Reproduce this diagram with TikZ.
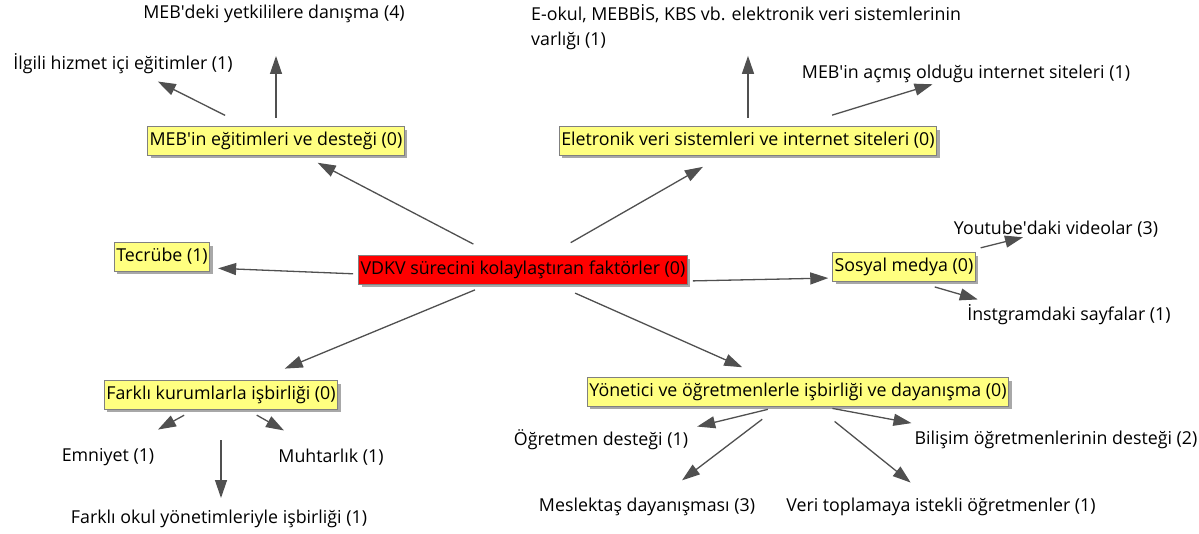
\documentclass[tikz,border=0pt]{standalone}
\usepackage{fontspec}
\setmainfont{Open Sans}
\usetikzlibrary{arrows.meta,shadows,calc}
\definecolor{boxyellow}{HTML}{FFFF80}
\definecolor{boxedge}{HTML}{808080}
\definecolor{shadowgray}{HTML}{A8A8A8}
\definecolor{linegray}{HTML}{505050}
\newcommand\apo{\textquotesingle}
\begin{document}
\begin{tikzpicture}[x=1pt,y=-1pt,
  font=\fontsize{17.8}{25}\selectfont,
  box/.style={draw=boxedge, line width=0.8pt, fill=boxyellow, inner xsep=2pt, inner ysep=5.5pt,
    text height=13pt, text depth=4.5pt,
    drop shadow={shadow xshift=3pt, shadow yshift=-3pt, fill=shadowgray, opacity=1}},
  leaf/.style={inner sep=0pt},
  arr/.style={draw=linegray, line width=1.3pt, -{Triangle[length=18pt,width=12pt,fill=linegray]}}]
\useasboundingbox (0,0) rectangle (1199,534);
\fill[white] (0,0) rectangle (1199,534);
% category boxes
\node[box, fill=red] (c) at (523,270) {VDKV sürecini kolaylaştıran faktörler (0)};
\node[box] (m) at (276,141) {MEB\apo in eğitimleri ve desteği (0)};
\node[box] (e) at (748,141) {Eletronik veri sistemleri ve internet siteleri (0)};
\node[box] (t) at (162,257) {Tecrübe (1)};
\node[box] (s) at (904,267) {Sosyal medya (0)};
\node[box] (f) at (221,395) {Farklı kurumlarla işbirliği (0)};
\node[box] (y) at (798,392) {Yönetici ve öğretmenlerle işbirliği ve dayanışma (0)};
% leaves
\node[leaf] (m1) at (274,14) {MEB\apo deki yetkililere danışma (4)};
\node[leaf] (m2) at (123,64) {İlgili hizmet içi eğitimler (1)};
\node[leaf, anchor=north west, align=left] (e1) at (531,4) {E-okul, MEBBİS, KBS vb. elektronik veri sistemlerinin\\varlığı (1)};
\node[leaf] (e2) at (966,74) {MEB\apo in açmış olduğu internet siteleri (1)};
\node[leaf] (s1) at (1056,229) {Youtube\apo daki videolar (3)};
\node[leaf] (s2) at (1069,315) {İnstgramdaki sayfalar (1)};
\node[leaf] (f1) at (108,457) {Emniyet (1)};
\node[leaf] (f2) at (331,457) {Muhtarlık (1)};
\node[leaf] (f3) at (219,519) {Farklı okul yönetimleriyle işbirliği (1)};
\node[leaf] (y1) at (601,440) {Öğretmen desteği (1)};
\node[leaf] (y2) at (1056,440) {Bilişim öğretmenlerinin desteği (2)};
\node[leaf] (y3) at (647,507) {Meslektaş dayanışması (3)};
\node[leaf] (y4) at (941,507) {Veri toplamaya istekli öğretmenler (1)};
% connectors from the centre
\draw[arr, shorten <=56pt, shorten >=47pt] (c.center) -- (m.center);
\draw[arr, shorten <=55pt, shorten >=52pt] (c.center) -- (e.center);
\draw[arr, shorten <=5pt, shorten >=8pt] ([yshift=-4pt]c.west) -- ([yshift=-11pt]t.east);
\draw[arr, shorten <=5pt, shorten >=4pt] ([yshift=-11pt]c.east) -- ([yshift=-11pt]s.west);
\draw[arr, shorten <=52pt, shorten >=69pt] (c.center) -- (f.center);
\draw[arr, shorten <=57pt, shorten >=61pt] (c.center) -- (y.center);
% MEB
\draw[arr, shorten <=23pt, shorten >=42pt] (m.center) -- (m.center |- m1.center);
\draw[arr, shorten <=57pt, shorten >=39pt] (m.center) -- (m2.center);
% electronic
\draw[arr, shorten <=23pt, shorten >=29pt] (e.center) -- (e.center |- e1.center);
\draw[arr, shorten <=88pt, shorten >=35pt] (e.center) -- (e2.center);
% social media
\draw[arr, shorten <=79pt, shorten >=34pt] (s.center) -- (s1.center);
\draw[arr, shorten <=32pt, shorten >=95pt] ([yshift=-11pt]s.center) -- ([yshift=-11pt]s2.center);
% institutions
\draw[arr, shorten <=42pt, shorten >=57pt] (f.center) -- (f1.center);
\draw[arr, shorten <=41pt, shorten >=54pt] (f.center) -- (f2.center);
\draw[arr, shorten <=45pt, shorten >=21pt] (f.center) -- (f.center |- f3.center);
% teachers
\draw[arr, shorten <=31pt, shorten >=99pt] ([yshift=-10pt]y.center) -- ([yshift=-10pt]y1.center);
\draw[arr, shorten <=35pt, shorten >=147pt] ([yshift=-10pt]y.center) -- ([yshift=-10pt]y2.center);
\draw[arr, shorten <=45pt, shorten >=44pt] (y.center) -- (y3.center);
\draw[arr, shorten <=47pt, shorten >=39pt] (y.center) -- (y4.center);
\end{tikzpicture}
\end{document}
